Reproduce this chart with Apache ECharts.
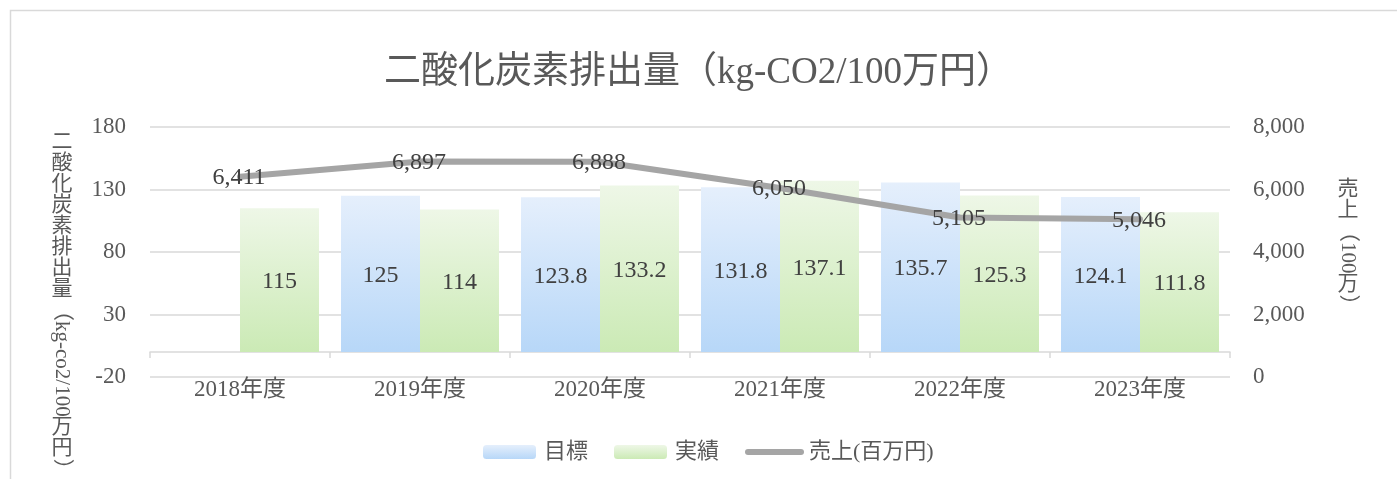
<!DOCTYPE html>
<html>
<head>
<meta charset="utf-8">
<script src="https://cdn.jsdelivr.net/npm/echarts@6/dist/echarts.min.js"></script>
<style>
html,body{margin:0;padding:0;background:#fff;}
#main{width:1397px;height:479px;}
</style>
</head>
<body>
<div id="main"></div>
<script>
// ---- data ----
const categories = ['2018年度', '2019年度', '2020年度', '2021年度', '2022年度', '2023年度'];
const targetValues = [null, 125, 123.8, 131.8, 135.7, 124.1];   // 目標
const actualValues = [115, 114, 133.2, 137.1, 125.3, 111.8];    // 実績
const salesValues = [6411, 6897, 6888, 6050, 5105, 5046];       // 売上(百万円)
const seriesNames = ['目標', '実績', '売上(百万円)'];
const leftTicks = { min: -20, max: 180, interval: 50 };
const rightTicks = { min: 0, max: 8000, interval: 2000 };
const titleText = '二酸化炭素排出量（kg-CO2/100万円）';
const leftAxisName = '二酸化炭素排出量（kg-co2/100万円）';
const rightAxisName = '売上（100万）';

// ---- styles ----
const FONT = "'Liberation Serif', 'Noto Sans CJK JP', serif";
const axisColor = '#595959';
const labelColor = '#404040';
const gridColor = '#d9d9d9';

const blueGrad = new echarts.graphic.LinearGradient(0, 0, 0, 1, [
  { offset: 0, color: '#e5effc' }, { offset: 1, color: '#b7d7f8' }
]);
const greenGrad = new echarts.graphic.LinearGradient(0, 0, 0, 1, [
  { offset: 0, color: '#eef7e7' }, { offset: 1, color: '#cbeab5' }
]);

function fmt(v) { return Number(v).toLocaleString('en-US'); }

function verticalText(str, cx, top, fontSize, color) {
  const ctx = document.createElement('canvas').getContext('2d');
  ctx.font = fontSize + 'px ' + FONT;
  const isUpright = ch => /[\u3040-\u30ff\u4e00-\u9fff]/.test(ch);
  const children = [];
  let y = top, i = 0;
  while (i < str.length) {
    const ch = str[i];
    if (isUpright(ch)) {
      children.push({ type: 'text', x: cx, y: y + fontSize / 2,
        style: { text: ch, fontSize: fontSize, fontFamily: FONT, fill: color, align: 'center', verticalAlign: 'middle' } });
      y += fontSize; i++;
    } else {
      let run = '';
      while (i < str.length && !isUpright(str[i])) { run += str[i]; i++; }
      const w = ctx.measureText(run).width;
      children.push({ type: 'text', x: cx, y: y, rotation: -Math.PI / 2,
        style: { text: run, fontSize: fontSize, fontFamily: FONT, fill: color, align: 'left', verticalAlign: 'middle' } });
      y += w;
    }
  }
  return children;
}

const chart = echarts.init(document.getElementById('main'), null, { renderer: 'canvas' });

const option = {
  animation: false,
  backgroundColor: '#ffffff',
  title: {
    text: titleText,
    left: 'center',
    top: 46,
    textStyle: { fontFamily: FONT, fontSize: 37, fontWeight: 'normal', color: axisColor, lineHeight: 44 }
  },
  legend: {
    left: 478,
    top: 436,
    itemWidth: 53,
    itemHeight: 14,
    itemGap: 26,
    textStyle: { fontFamily: FONT, fontSize: 22, color: axisColor, padding: [0, 0, 0, 3] },
    data: [
      { name: seriesNames[0] },
      { name: seriesNames[1] },
      { name: seriesNames[2], itemStyle: { color: 'rgba(0,0,0,0)', borderWidth: 0 }, lineStyle: { width: 6, cap: 'round', color: '#a5a5a5' } }
    ]
  },
  grid: { left: 150, right: 167, top: 127, bottom: 102, containLabel: false },
  xAxis: [
    {
      type: 'category',
      data: categories,
      axisLine: { show: true, onZero: true, lineStyle: { color: gridColor, width: 1.5 } },
      axisTick: { show: true, alignWithLabel: false, length: 6, lineStyle: { color: gridColor, width: 1.5 } },
      axisLabel: { show: false },
      splitLine: { show: false }
    },
    {
      type: 'category',
      data: categories,
      position: 'bottom',
      axisLine: { show: false, onZero: false },
      axisTick: { show: false },
      axisLabel: { show: true, margin: 1, fontFamily: FONT, fontSize: 23, color: axisColor },
      splitLine: { show: false }
    }
  ],
  yAxis: [
    {
      type: 'value',
      min: leftTicks.min, max: leftTicks.max, interval: leftTicks.interval,
      axisLine: { show: false },
      axisTick: { show: false },
      axisLabel: { margin: 24, fontFamily: FONT, fontSize: 23, color: axisColor },
      splitLine: { show: true, lineStyle: { color: gridColor, width: 1.5 } }
    },
    {
      type: 'value',
      min: rightTicks.min, max: rightTicks.max, interval: rightTicks.interval,
      position: 'right',
      axisLine: { show: false },
      axisTick: { show: false },
      axisLabel: { margin: 23, fontFamily: FONT, fontSize: 23, color: axisColor, formatter: v => fmt(v) },
      splitLine: { show: false }
    }
  ],
  series: [
    {
      name: seriesNames[0],
      type: 'bar',
      xAxisIndex: 0, yAxisIndex: 0,
      data: targetValues,
      barWidth: 79,
      barGap: '0%',
      itemStyle: { color: blueGrad },
      label: { show: true, position: 'inside', offset: [0, 2], fontFamily: FONT, fontSize: 24, color: labelColor }
    },
    {
      name: seriesNames[1],
      type: 'bar',
      xAxisIndex: 0, yAxisIndex: 0,
      data: actualValues,
      barWidth: 79,
      barGap: '0%',
      itemStyle: { color: greenGrad },
      label: { show: true, position: 'inside', offset: [0, 2], fontFamily: FONT, fontSize: 24, color: labelColor }
    },
    {
      name: seriesNames[2],
      type: 'line',
      xAxisIndex: 0, yAxisIndex: 1,
      data: salesValues,
      z: 5,
      symbol: 'circle',
      symbolSize: 1,
      showSymbol: true,
      itemStyle: { color: '#a5a5a5' },
      lineStyle: { color: '#a5a5a5', width: 6, cap: 'round', join: 'round' },
      label: { show: true, position: 'inside', offset: [-1, 1], fontFamily: FONT, fontSize: 24, color: labelColor, formatter: p => fmt(p.value) }
    }
  ],
  graphic: [
    { type: 'rect', z: -10, silent: true, shape: { x: 10.5, y: 10.5, width: 1400, height: 490 },
      style: { fill: 'none', stroke: gridColor, lineWidth: 1.5 } },
    { type: 'group', children: verticalText(leftAxisName, 62, 132, 21, axisColor) },
    { type: 'group', children: verticalText(rightAxisName, 1348, 179, 21, axisColor) }
  ]
};

chart.setOption(option);
</script>
</body>
</html>
